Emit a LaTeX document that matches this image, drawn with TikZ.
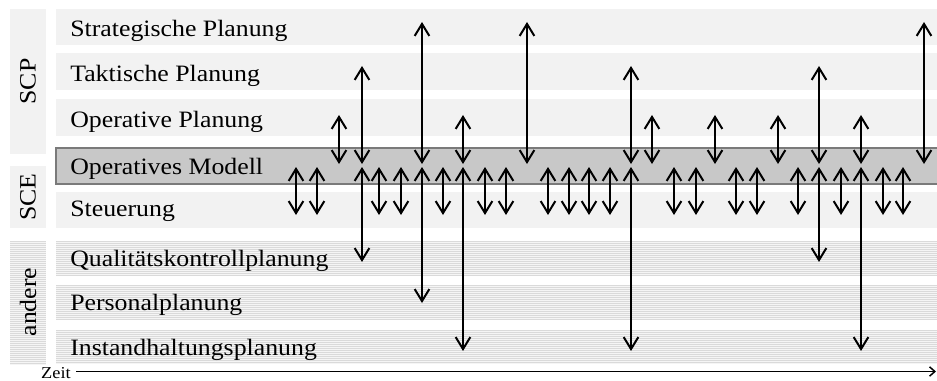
\documentclass[tikz,border=0pt]{standalone}
\usepackage{fontspec}
\setmainfont{Liberation Serif}
\usetikzlibrary{arrows.meta}
\definecolor{bandgray}{HTML}{F2F2F2}
\definecolor{modellgray}{HTML}{C8C8C8}
\definecolor{modellborder}{HTML}{7A7A7A}
\definecolor{stripebase}{HTML}{F5F5F5}
\definecolor{stripeline}{HTML}{DADADA}
\begin{document}
\begin{tikzpicture}[x=0.75pt,y=-0.75pt,
  rowlabel/.style={anchor=base west, inner sep=0pt, xscale=1.1,
    font=\fontsize{17.6pt}{20pt}\selectfont},
  grouplabel/.style={anchor=center, inner sep=0pt, rotate=90, xscale=1.1,
    font=\fontsize{17.6pt}{20pt}\selectfont},
  barb/.tip={Straight Barb[length=9pt,width=11pt]},
  dblarrow/.style={barb-barb, line width=1.5pt},
  axisline/.style={-{Straight Barb[length=4pt,width=7pt]}, line width=1.1pt}
]
\useasboundingbox (0,0) rectangle (937,381);

% plain light bands
\fill[bandgray] (56,9) rectangle (937,45);
\fill[bandgray] (56,53) rectangle (937,90);
\fill[bandgray] (56,99) rectangle (937,136);
\fill[bandgray] (56,192) rectangle (937,228);
\fill[bandgray] (10,9) rectangle (46,154);
\fill[bandgray] (10,166) rectangle (46,228);

% striped bands
\fill[stripebase] (56,241) rectangle (937,276);
\fill[stripebase] (56,285) rectangle (937,320);
\fill[stripebase] (56,330) rectangle (937,364);
\fill[stripebase] (10,241) rectangle (46,365);
\foreach \y in {241.5,243.5,...,276} {\draw[stripeline, line width=0.75pt] (56,\y) -- (937,\y);}
\foreach \y in {285.5,287.5,...,320} {\draw[stripeline, line width=0.75pt] (56,\y) -- (937,\y);}
\foreach \y in {330.5,332.5,...,364} {\draw[stripeline, line width=0.75pt] (56,\y) -- (937,\y);}
\foreach \y in {241.5,243.5,...,365} {\draw[stripeline, line width=0.75pt] (10,\y) -- (46,\y);}

% Operatives Modell box
\draw[fill=modellgray, draw=modellborder, line width=1.2pt] (56,148) rectangle (939,184);

% row labels
\node[rowlabel] (strat) at (70,36.5) {Strategische Planung};
\node[rowlabel] (takt) at (70,82) {Taktische Planung};
\node[rowlabel] (opplan) at (70,127.5) {Operative Planung};
\node[rowlabel] (opmod) at (70,174.5) {Operatives Modell};
\node[rowlabel] (steu) at (70,216) {Steuerung};
\node[rowlabel] (qual) at (70,266.5) {Qualitätskontrollplanung};
\node[rowlabel] (pers) at (70,310.5) {Personalplanung};
\node[rowlabel] (inst) at (70,355) {Instandhaltungsplanung};

% group labels
\node[grouplabel] (scp) at (28,81.5) {SCP};
\node[grouplabel] (sce) at (28,197) {SCE};
\node[grouplabel] (andere) at (28,302) {andere};

% upper arrows (planning level <-> operatives Modell)
\foreach \x/\t in {339/115, 362/66, 422/22, 463/115, 527/22, 631/66, 652/115,
                   715/115, 778/115, 819/66, 861/115, 924/22}
  {\draw[dblarrow] (\x,\t) -- (\x,164);}

% lower short arrows (operatives Modell <-> Steuerung)
\foreach \x in {296, 317, 379, 401, 443, 485, 506, 548, 569, 589, 610,
                674, 696, 736, 757, 798, 841, 883, 903}
  {\draw[dblarrow] (\x,167) -- (\x,215);}

% lower long arrows (operatives Modell <-> andere)
\foreach \x/\b in {362/262, 422/303, 463/351, 631/351, 819/262, 861/351}
  {\draw[dblarrow] (\x,167) -- (\x,\b);}

% time axis
\node[anchor=base east, inner sep=0pt, xscale=1.1,
      font=\fontsize{12.5pt}{14pt}\selectfont] (zeit) at (71,378) {Zeit};
\coordinate (axend) at (936,371.5);
\draw[axisline] (zeit.east |- axend) ++(5,0) -- (axend);
\end{tikzpicture}
\end{document}
